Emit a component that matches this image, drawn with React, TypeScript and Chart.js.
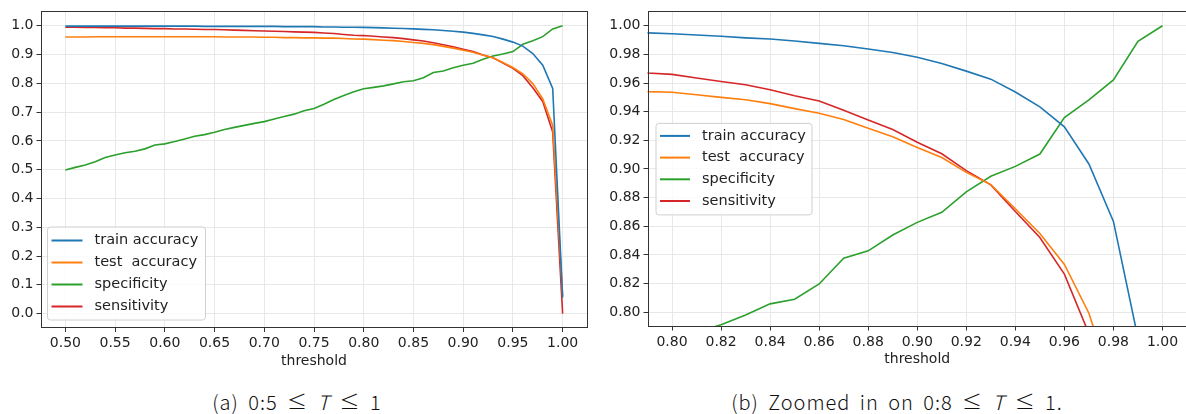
import React, { useEffect, useRef } from "react";
import { Chart, registerables } from "chart.js";

Chart.register(...registerables);
Chart.defaults.font.family = "'DejaVu Sans', sans-serif";

// ---------------- data ----------------
const thresholds = [
  0.5, 0.51, 0.52, 0.53, 0.54, 0.55, 0.56, 0.57, 0.58, 0.59,
  0.6, 0.61, 0.62, 0.63, 0.64, 0.65, 0.66, 0.67, 0.68, 0.69,
  0.7, 0.71, 0.72, 0.73, 0.74, 0.75, 0.76, 0.77, 0.78, 0.79,
  0.8, 0.81, 0.82, 0.83, 0.84, 0.85, 0.86, 0.87, 0.88, 0.89,
  0.9, 0.91, 0.92, 0.93, 0.94, 0.95, 0.96, 0.97, 0.98, 0.99,
  1.0,
];

const trainAccuracy = [
  0.999, 0.999, 0.999, 0.999, 0.999, 0.999, 0.999, 0.999, 0.999, 0.999,
  0.999, 0.999, 0.999, 0.999, 0.998, 0.998, 0.998, 0.998, 0.998, 0.998,
  0.998, 0.998, 0.997, 0.997, 0.997, 0.997, 0.996, 0.996, 0.995, 0.995,
  0.9944, 0.9935, 0.9926, 0.9915, 0.9907, 0.9893, 0.9877, 0.986, 0.9838, 0.9813,
  0.978, 0.9736, 0.9683, 0.9627, 0.9537, 0.9433, 0.9294, 0.9035, 0.8634, 0.782,
  0.056,
];

const testAccuracy = [
  0.961, 0.961, 0.961, 0.962, 0.962, 0.962, 0.962, 0.962, 0.962, 0.962,
  0.962, 0.962, 0.962, 0.962, 0.962, 0.962, 0.961, 0.961, 0.961, 0.961,
  0.96, 0.96, 0.959, 0.959, 0.958, 0.958, 0.957, 0.957, 0.956, 0.954,
  0.9535, 0.9518, 0.95, 0.9483, 0.9456, 0.9421, 0.9389, 0.9345, 0.9285, 0.9224,
  0.915, 0.908, 0.8976, 0.8891, 0.8722, 0.8549, 0.8333, 0.7993, 0.746, 0.654,
  0.062,
];

const specificity = [
  0.499, 0.508, 0.516, 0.528, 0.5425, 0.551, 0.5586, 0.5644, 0.5724, 0.586,
  0.5897, 0.5977, 0.607, 0.616, 0.6218, 0.63, 0.64, 0.647, 0.654, 0.661,
  0.667, 0.676, 0.685, 0.693, 0.7045, 0.7127, 0.7276, 0.744, 0.7576, 0.771,
  0.781, 0.786, 0.7912, 0.7981, 0.8058, 0.809, 0.8197, 0.8377, 0.8428, 0.8539,
  0.8627, 0.8697, 0.884, 0.8949, 0.9018, 0.9104, 0.9358, 0.9483, 0.9622, 0.9891,
  1.0,
];

const sensitivity = [
  0.995, 0.995, 0.994, 0.994, 0.993, 0.993, 0.992, 0.992, 0.991, 0.99,
  0.99, 0.989, 0.989, 0.988, 0.987, 0.987, 0.986, 0.985, 0.984, 0.983,
  0.982, 0.981, 0.98, 0.979, 0.978, 0.977, 0.975, 0.973, 0.97, 0.967,
  0.966, 0.9635, 0.9611, 0.9588, 0.9553, 0.9511, 0.9474, 0.941, 0.9342, 0.9275,
  0.9187, 0.9106, 0.8988, 0.8889, 0.8703, 0.8521, 0.8266, 0.785, 0.737, 0.631,
  0.0,
];

const seriesLabels = ["train accuracy", "test  accuracy", "specificity", "sensitivity"];
const seriesValues = [trainAccuracy, testAccuracy, specificity, sensitivity];
const seriesColors = ["#1f77b4", "#ff7f0e", "#2ca02c", "#d62728"];

const fullXTicks = [0.5, 0.55, 0.6, 0.65, 0.7, 0.75, 0.8, 0.85, 0.9, 0.95, 1.0];
const fullYTicks = [0.0, 0.1, 0.2, 0.3, 0.4, 0.5, 0.6, 0.7, 0.8, 0.9, 1.0];
const zoomXTicks = [0.8, 0.82, 0.84, 0.86, 0.88, 0.9, 0.92, 0.94, 0.96, 0.98, 1.0];
const zoomYTicks = [0.8, 0.82, 0.84, 0.86, 0.88, 0.9, 0.92, 0.94, 0.96, 0.98, 1.0];

const xAxisTitle = "threshold";

// ---------------- plugins ----------------
const framePlugin = {
  id: "frame",
  afterDatasetsDraw(chart: any) {
    const { ctx, chartArea } = chart;
    ctx.save();
    ctx.strokeStyle = "#333333";
    ctx.lineWidth = 1;
    const l = Math.round(chartArea.left) + 0.5;
    const t = Math.round(chartArea.top) + 0.5;
    const r = Math.round(chartArea.right) - 0.5;
    const b = Math.round(chartArea.bottom) - 0.5;
    ctx.strokeRect(l, t, r - l, b - t);
    ctx.restore();
  },
};

const boxLegendPlugin = {
  id: "boxLegend",
  afterDraw(chart: any, _args: any, opts: any) {
    const { ctx, chartArea } = chart;
    const x = chartArea.left + opts.dx;
    const y = opts.fromBottom ? chartArea.bottom - opts.dy - opts.h : chartArea.top + opts.dy;
    const w = opts.w;
    const h = opts.h;
    ctx.save();
    ctx.beginPath();
    const r = 3;
    ctx.moveTo(x + r, y);
    ctx.lineTo(x + w - r, y);
    ctx.quadraticCurveTo(x + w, y, x + w, y + r);
    ctx.lineTo(x + w, y + h - r);
    ctx.quadraticCurveTo(x + w, y + h, x + w - r, y + h);
    ctx.lineTo(x + r, y + h);
    ctx.quadraticCurveTo(x, y + h, x, y + h - r);
    ctx.lineTo(x, y + r);
    ctx.quadraticCurveTo(x, y, x + r, y);
    ctx.closePath();
    ctx.fillStyle = "rgba(255,255,255,0.8)";
    ctx.fill();
    ctx.strokeStyle = "#d0d0d0";
    ctx.lineWidth = 1;
    ctx.stroke();
    ctx.font = `${opts.fontSize}px 'DejaVu Sans', sans-serif`;
    ctx.textBaseline = "middle";
    chart.data.datasets.forEach((ds: any, i: number) => {
      const cy = y + opts.firstRow + i * opts.rowGap;
      ctx.strokeStyle = ds.borderColor;
      ctx.lineWidth = 2;
      ctx.beginPath();
      ctx.moveTo(x + 4, cy);
      ctx.lineTo(x + 4 + opts.lineLen, cy);
      ctx.stroke();
      ctx.fillStyle = "#222222";
      ctx.fillText(ds.label, x + opts.textX, cy);
    });
    ctx.restore();
  },
};

// ---------------- panel ----------------
type PanelSpec = {
  xMin: number;
  xMax: number;
  yMin: number;
  yMax: number;
  xTicks: number[];
  yTicks: number[];
  xDec: number;
  yDec: number;
  padTop: number;
  padRight: number;
  yAxisWidth: number;
  xAxisHeight: number;
  titlePadBottom: number;
  legend: any;
};

function Panel({ spec, left, width, height }: { spec: PanelSpec; left: number; width: number; height: number }) {
  const ref = useRef<HTMLCanvasElement>(null);
  useEffect(() => {
    const datasets = seriesLabels.map((label, i) => ({
      label,
      data: thresholds.map((t, j) => ({ x: t, y: seriesValues[i][j] })),
      borderColor: seriesColors[i],
      backgroundColor: seriesColors[i],
      borderWidth: 1.6,
      pointRadius: 0,
      tension: 0,
      fill: false,
      clip: 0,
    }));
    const chart = new Chart(ref.current as HTMLCanvasElement, {
      type: "line",
      data: { datasets },
      plugins: [framePlugin, boxLegendPlugin],
      options: {
        animation: false,
        responsive: false,
        devicePixelRatio: 1,
        layout: { padding: { top: spec.padTop, right: spec.padRight, left: 0, bottom: 0 } },
        plugins: {
          legend: { display: false },
          tooltip: { enabled: false },
          boxLegend: spec.legend,
        } as any,
        scales: {
          x: {
            type: "linear",
            min: spec.xMin,
            max: spec.xMax,
            afterBuildTicks: (s: any) => {
              s.ticks = spec.xTicks.map((v) => ({ value: v }));
            },
            afterFit: (s: any) => {
              s.height = spec.xAxisHeight;
            },
            ticks: {
              autoSkip: false,
              maxRotation: 0,
              padding: 3,
              color: "#222222",
              font: { size: 14 },
              callback: (v: any) => Number(v).toFixed(spec.xDec),
            },
            grid: { color: "#e8e8e8", lineWidth: 1, tickColor: "#333333", tickLength: 4, drawTicks: true },
            border: { display: false },
            title: {
              display: true,
              text: xAxisTitle,
              color: "#222222",
              font: { size: 14 },
              padding: { top: 0, bottom: spec.titlePadBottom },
            },
          },
          y: {
            type: "linear",
            min: spec.yMin,
            max: spec.yMax,
            afterBuildTicks: (s: any) => {
              s.ticks = spec.yTicks.map((v) => ({ value: v }));
            },
            afterFit: (s: any) => {
              s.width = spec.yAxisWidth;
            },
            ticks: {
              autoSkip: false,
              padding: 3,
              color: "#222222",
              font: { size: 14 },
              callback: (v: any) => Number(v).toFixed(spec.yDec),
            },
            grid: { color: "#e8e8e8", lineWidth: 1, tickColor: "#333333", tickLength: 4, drawTicks: true },
            border: { display: false },
          },
        },
      } as any,
    });
    return () => chart.destroy();
  }, []);
  return (
    <div style={{ position: "absolute", left, top: 0, width, height }}>
      <canvas ref={ref} width={width} height={height} style={{ width, height, display: "block" }} />
    </div>
  );
}

const fullSpec: PanelSpec = {
  xMin: 0.475,
  xMax: 1.025,
  yMin: -0.05,
  yMax: 1.05,
  xTicks: fullXTicks,
  yTicks: fullYTicks,
  xDec: 2,
  yDec: 1,
  padTop: 9,
  padRight: 12.5,
  yAxisWidth: 40.5,
  xAxisHeight: 47,
  titlePadBottom: 5,
  legend: { dx: 7, dy: 8, fromBottom: true, w: 158, h: 93, firstRow: 13.5, rowGap: 22, lineLen: 31, textX: 47, fontSize: 14.5 },
};

const zoomSpec: PanelSpec = {
  xMin: 0.79,
  xMax: 1.01,
  yMin: 0.79,
  yMax: 1.01,
  xTicks: zoomXTicks,
  yTicks: zoomYTicks,
  xDec: 2,
  yDec: 2,
  padTop: 10.5,
  padRight: 13,
  yAxisWidth: 47.5,
  xAxisHeight: 48.5,
  titlePadBottom: 7.5,
  legend: { dx: 8.5, dy: 112, fromBottom: false, w: 156, h: 91.5, firstRow: 12.5, rowGap: 21.7, lineLen: 30, textX: 46, fontSize: 14.5 },
};

const captionStyle: React.CSSProperties = {
  position: "absolute",
  top: 389,
  width: 500,
  textAlign: "center",
  fontFamily: "'Noto Sans CJK KR', 'Noto Sans', sans-serif",
  fontWeight: 300,
  fontSize: 20,
  letterSpacing: "1px",
  wordSpacing: "4px",
  lineHeight: "26px",
  color: "#111",
  whiteSpace: "nowrap",
};

export default function App() {
  return (
    <div
      style={{
        position: "absolute",
        left: 0,
        top: 0,
        width: 1186,
        height: 414,
        overflow: "hidden",
        background: "#ffffff",
      }}
    >
      <Panel spec={fullSpec} left={0} width={600} height={375} />
      <Panel spec={zoomSpec} left={600} width={600} height={375} />
      <div style={{ ...captionStyle, left: 297 - 250 }}>
        (a) 0:5 ≤ <i>T</i> ≤ 1
      </div>
      <div style={{ ...captionStyle, left: 897 - 250 }}>
        (b) Zoomed in on 0:8 ≤ <i>T</i> ≤ 1.
      </div>
    </div>
  );
}
